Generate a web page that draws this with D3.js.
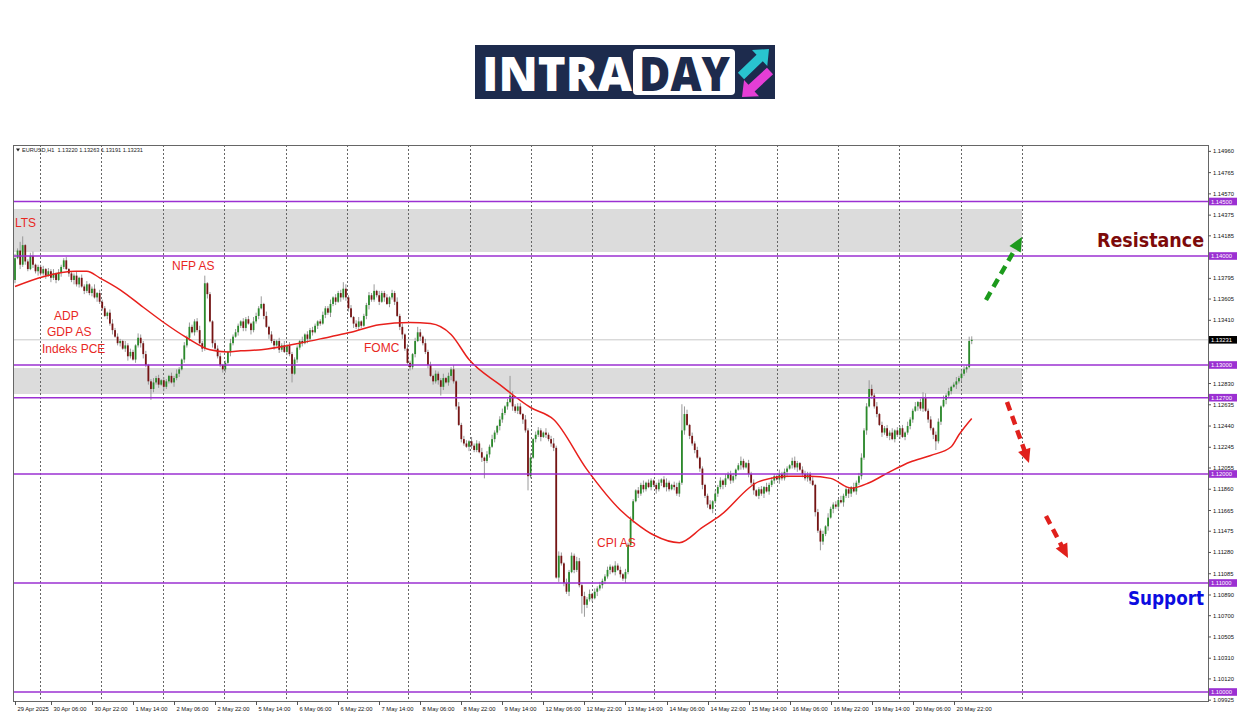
<!DOCTYPE html>
<html><head><meta charset="utf-8">
<script src="https://cdn.jsdelivr.net/npm/d3@7"></script>
<style>
html,body{margin:0;padding:0;background:#fff;}
svg{display:block;}
text{font-family:"Liberation Sans",Arial,sans-serif;}
</style></head><body>
<svg id="c" width="1250" height="716"></svg>
<script>
// ---------------- DATA ----------------
const symbolInfo = "EURUSD,H1  1.13220 1.13263 1.13191 1.13231";
const firstOpen = 378; // pips above 1.10000
const closes = [
 398,405,392,410,395,388,400,392,386,390,384,388,382,386,380,384,378,385,390,396,388,
 384,378,382,374,380,372,368,374,366,370,362,366,358,
 352,345,348,338,332,326,320,322,315,318,
 308,312,305,318,325,320,310,300,
 285,278,
 284,288,282,286,280,285,290,284,288,292,296,
 305,318,325,335,330,340,332,320,315,375,365,340,320,315,
 308,300,296,302,312,320,326,330,
 336,340,334,342,338,332,340,345,352,356,345,
 335,328,322,318,322,314,318,312,318,310,292,
 305,316,322,320,328,324,332,330,336,340,338,346,352,348,356,
 362,358,366,362,370,362,352,344,338,335,340,336,345,
 355,364,360,368,364,358,366,362,356,362,366,358,
 345,335,328,315,302,298,310,322,330,326,320,312,
 300,290,285,292,286,280,288,284,290,296,285,
 262,245,232,228,225,230,226,222,228,220,215,212,218,225,
 232,238,244,250,256,262,266,272,262,258,262,255,250,240,
 198,215,232,236,240,234,238,236,232,228,224,
 105,125,118,100,92,110,125,112,120,98,88,80,85,90,86,92,95,98,
 102,106,112,115,110,116,112,108,104,110,135,158,
 175,185,182,190,186,192,188,194,190,186,192,195,188,192,186,190,188,182,192,
 240,255,245,235,228,222,215,205,190,180,172,168,175,
 182,188,194,190,196,200,194,198,204,208,212,206,210,200,
 192,185,180,186,182,188,184,190,194,198,195,200,196,202,
 205,208,212,206,210,204,200,196,200,194,190,
 165,148,138,145,152,160,168,172,170,176,174,180,186,182,188,184,192,198,
 215,240,262,278,272,262,255,245,238,242,235,238,232,240,236,242,234,238,244,
 250,258,262,266,260,270,258,250,242,236,230,
 248,262,268,272,276,280,282,285,288,292,296,298,322,323.1
];
const wickUp = "4283123412"+"2313241322"+"3122413231"+"2413221342"+"3214232143"+"2312423132"+"1324213242"+"2342312133"+"3121423213"+"2314322141"+
 "3213241322"+"2141323212"+"3224132314"+"2313412232"+"3142231324"+"2314213231"+"4231322413"+"2314233142"+"3241324213"+"4132423314"+
 "2413321423"+"5243142324"+"3142413232"+"2321423132"+"3213241321"+"2313421342"+"3241323121"+"2413231423"+"3124213231"+"2314232142"+
 "3213421332"+"2413231422"+"3142321423"+"4231424132"+"3241323142"+"2413242313"+"3142312423"+"3241";
const wickDn = "3142321324"+"2231423142"+"1324231322"+"3142213241"+"2313421324"+"4231323142"+"2142313231"+"3213241422"+"2331421323"+"3142231314"+
 "2413213241"+"3231423132"+"1324231423"+"3142321342"+"2231413231"+"3421323142"+"2313242313"+"4231321432"+"2143231324"+"3231423142"+
 "4213241323"+"3142324132"+"2413231423"+"3241313242"+"2314232132"+"4231421323"+"2413231342"+"3142324213"+"2314213241"+"3241323142"+
 "2413241323"+"3142132414"+"2314243132"+"3241323142"+"2413241323"+"3142313242"+"2314231423"+"2312";
const spikeHighs = [[3,418],[19,398],[74,382],[96,363],[128,376],[140,374],[157,335],[171,300],[193,290],[260,264],[261,262],[333,286],[354,275],[373,326.3]];
const spikeLows  = [[53,268],[108,284],[166,272],[183,196],[200,185],[221,72],[222,69],[314,130],[359,222],[373,319.1]];
const maBars = [0,11,24,28,33,41,50,58,67,76,83,88,96,111,123,131,142,154,162,170,177,189,201,210,223,236,242,249,259,268,275,290,302,310,318,326,333,341,349,357,365,368,373];
const maVals = [372,381,386,386,380,369,353,339,325,314,312,313,314,320,326,330,337,339,338,328,305,282,261,250,204,167,155,144,137,151,162,193,198,198,196,187,192,202,211,217,225,236,251];
const priceTicks = [1.14960,1.14765,1.14570,1.14375,1.14185,1.13795,1.13605,1.13410,1.12830,1.12635,1.12440,1.12245,1.12055,1.11860,1.11665,1.11475,1.11280,1.11085,1.10890,1.10700,1.10505,1.10310,1.10120,1.09925];
const levels = [1.14500,1.14000,1.13000,1.12700,1.12000,1.11000,1.10000];
const zones = [[1.14431,1.14037],[1.12972,1.12734]];
const currentPrice = 1.13231;
const timeLabels = ["29 Apr 2025","30 Apr 06:00","30 Apr 22:00","1 May 14:00","2 May 06:00","2 May 22:00","5 May 14:00","6 May 06:00","6 May 22:00","7 May 14:00","8 May 06:00","8 May 22:00","9 May 14:00","12 May 06:00","12 May 22:00","13 May 14:00","14 May 06:00","14 May 22:00","15 May 14:00","16 May 06:00","16 May 22:00","19 May 14:00","20 May 06:00","20 May 22:00"];
const timeLabelBars = [0,14,30,46,62,78,94,110,126,142,158,174,190,206,222,238,254,270,286,302,318,334,350,366];
const events = ["LTS","NFP AS","ADP","GDP AS","Indeks PCE","FOMC","CPI AS"];

// ---------------- DRAW ----------------
const svg = d3.select("#c");
const plot = {l:13, t:145, r:1208, b:701};
const pxBar = 2.565;
const x = d3.scaleLinear().domain([0,463]).range([15, 15+463*pxBar]);
const y = d3.scaleLinear().domain([1.10,1.14]).range([692,256]);
const P = v => 1.1 + v/10000;
const lastGridBar = 392.6;

// logo
const navy = "#1d2b4d";
const logo = svg.append("g");
logo.append("rect").attr("x",475).attr("y",45).attr("width",300).attr("height",54).attr("fill",navy);
logo.append("text").attr("x",482).attr("y",91).attr("fill","#fff").attr("font-size",47).attr("font-weight",800)
  .style("font-family","'Open Sans',sans-serif").attr("textLength",150).attr("lengthAdjust","spacingAndGlyphs").text("INTRA");
logo.append("rect").attr("x",633).attr("y",49).attr("width",102).attr("height",46).attr("rx",4).attr("fill","#fff");
logo.append("text").attr("x",639).attr("y",91).attr("fill",navy).attr("font-size",47).attr("font-weight",800)
  .style("font-family","'Open Sans',sans-serif").attr("textLength",91).attr("lengthAdjust","spacingAndGlyphs").text("DAY");
function arrowPoly(x1,y1,x2,y2,sw,hw,hl){
  const dx=x2-x1, dy=y2-y1, L=Math.hypot(dx,dy), ux=dx/L, uy=dy/L, nx=-uy, ny=ux;
  const bx=x2-ux*hl, by=y2-uy*hl;
  const pts=[[x1+nx*sw/2,y1+ny*sw/2],[bx+nx*sw/2,by+ny*sw/2],[bx+nx*hw/2,by+ny*hw/2],[x2,y2],
             [bx-nx*hw/2,by-ny*hw/2],[bx-nx*sw/2,by-ny*sw/2],[x1-nx*sw/2,y1-ny*sw/2]];
  return pts.map(p=>p.join(",")).join(" ");
}
logo.append("polygon").attr("points",arrowPoly(741,76,769,49,9,22,13)).attr("fill","#29c4cf");
logo.append("polygon").attr("points",arrowPoly(770,71,742,97,9,22,13)).attr("fill","#e53ed6");

// zones
svg.append("defs").append("clipPath").attr("id","pc").append("rect")
  .attr("x",plot.l).attr("y",plot.t).attr("width",plot.r-plot.l).attr("height",plot.b-plot.t);
const g = svg.append("g").attr("clip-path","url(#pc)");
zones.forEach(z=>{
  g.append("rect").attr("x",plot.l).attr("y",y(z[0])).attr("width",x(lastGridBar)-plot.l).attr("height",y(z[1])-y(z[0])).attr("fill","#dcdcdc");
});
// vertical dotted grid (only over the bar area)
d3.range(9.75, lastGridBar+1, 23.93).forEach(b=>{
  g.append("line").attr("x1",Math.round(x(b))+0.5).attr("x2",Math.round(x(b))+0.5).attr("y1",plot.t).attr("y2",plot.b)
   .attr("stroke","#666").attr("stroke-width",1).attr("stroke-dasharray","2,2");
});
// current price line
g.append("line").attr("x1",plot.l).attr("x2",plot.r).attr("y1",y(currentPrice)).attr("y2",y(currentPrice)).attr("stroke","#c8c8c8");

// candles
const candles = closes.map((c,i)=>{
  const o = i===0 ? firstOpen : closes[i-1];
  return {i,o,c,h:Math.max(o,c)+(+wickUp[i]||0), l:Math.min(o,c)-(+wickDn[i]||0)};
});
spikeHighs.forEach(([i,v])=>{ if(candles[i]) candles[i].h = Math.max(v, candles[i].o, candles[i].c); });
spikeLows.forEach(([i,v])=>{ if(candles[i]) candles[i].l = Math.min(v, candles[i].o, candles[i].c); });
const cg = g.append("g");
cg.selectAll("line.w").data(candles).join("line").attr("class","w")
  .attr("x1",d=>x(d.i)).attr("x2",d=>x(d.i)).attr("y1",d=>y(P(d.h))).attr("y2",d=>y(P(d.l)))
  .attr("stroke","#8f8f8f").attr("stroke-width",0.9);
cg.selectAll("rect.b").data(candles).join("rect").attr("class","b")
  .attr("x",d=>x(d.i)-0.9).attr("width",1.8)
  .attr("y",d=>y(P(Math.max(d.o,d.c))))
  .attr("height",d=>Math.max(0.8, Math.abs(y(P(d.o))-y(P(d.c)))))
  .attr("fill",d=>d.c>=d.o?"#2b8a2b":"#761414");

// MA
g.append("path").datum(maBars.map((b,i)=>[b,maVals[i]]))
  .attr("d",d3.line().x(d=>x(d[0])).y(d=>y(P(d[1]))).curve(d3.curveMonotoneX))
  .attr("fill","none").attr("stroke","#e8201c").attr("stroke-width",1.5);

// level lines
const purple = "#9b30d2";
levels.forEach(l=>{
  g.append("line").attr("x1",plot.l).attr("x2",plot.r).attr("y1",y(l)).attr("y2",y(l)).attr("stroke",purple).attr("stroke-width",1.6);
});

// frame
svg.append("rect").attr("x",plot.l+0.5).attr("y",plot.t+0.5).attr("width",plot.r-plot.l).attr("height",plot.b-plot.t)
  .attr("fill","none").attr("stroke","#666").attr("stroke-width",1);

// header
svg.append("path").attr("d",`M16,148.5 L20,148.5 L18,151.5 Z`).attr("fill","#222");
svg.append("text").attr("x",22).attr("y",152).attr("font-size",5.6).attr("fill","#222").attr("xml:space","preserve").text(symbolInfo);

// price axis
const ax = svg.append("g");
priceTicks.forEach(t=>{
  ax.append("line").attr("x1",plot.r).attr("x2",plot.r+3).attr("y1",y(t)).attr("y2",y(t)).attr("stroke","#555");
  ax.append("text").attr("x",plot.r+5).attr("y",y(t)+2).attr("font-size",5.8).attr("fill","#111").text(t.toFixed(5));
});
levels.forEach(l=>{
  ax.append("rect").attr("x",plot.r+1).attr("y",y(l)-3.8).attr("width",28).attr("height",7.6).attr("fill",purple);
  ax.append("text").attr("x",plot.r+3).attr("y",y(l)+2).attr("font-size",5.8).attr("fill","#fff").text(l.toFixed(5));
});
ax.append("rect").attr("x",plot.r+1).attr("y",y(currentPrice)-3.8).attr("width",28).attr("height",7.6).attr("fill","#000");
ax.append("text").attr("x",plot.r+3).attr("y",y(currentPrice)+2).attr("font-size",5.8).attr("fill","#fff").text(currentPrice.toFixed(5));

// time axis
timeLabels.forEach((t,i)=>{
  const xx = Math.round(x(timeLabelBars[i]))+0.5;
  ax.append("line").attr("x1",xx).attr("x2",xx).attr("y1",plot.b).attr("y2",plot.b+4).attr("stroke","#555");
  ax.append("text").attr("x",xx+2).attr("y",711).attr("font-size",5.8).attr("fill","#111").text(t);
});

// event annotations
const evPos = [[15,227],[172,270],[54,320],[47,336],[42,353],[364,352],[597,547]];
events.forEach((e,i)=>{
  svg.append("text").attr("x",evPos[i][0]).attr("y",evPos[i][1]).attr("font-size",12).attr("fill","#e8281f").text(e);
});

// Resistance / Support
svg.append("text").attr("x",1097).attr("y",247).attr("font-size",19).attr("font-weight",700).attr("fill","#7d0a0a")
  .style("font-family","'DejaVu Sans',sans-serif")
  .attr("textLength",107).attr("lengthAdjust","spacingAndGlyphs").text("Resistance");
svg.append("text").attr("x",1128).attr("y",605).attr("font-size",19).attr("font-weight",700).attr("fill","#0c0ce0")
  .style("font-family","'DejaVu Sans',sans-serif")
  .attr("textLength",76).attr("lengthAdjust","spacingAndGlyphs").text("Support");

// dashed arrows
function dashArrow(x1,y1,x2,y2,color){
  const dx=x2-x1, dy=y2-y1, L=Math.hypot(dx,dy), ux=dx/L, uy=dy/L, nx=-uy, ny=ux, hl=14, hw=13;
  const bx=x2-ux*hl, by=y2-uy*hl;
  svg.append("line").attr("x1",x1).attr("y1",y1).attr("x2",bx+ux*2).attr("y2",by+uy*2)
    .attr("stroke",color).attr("stroke-width",4.5).attr("stroke-dasharray","9,6");
  svg.append("polygon").attr("points",[[x2,y2],[bx+nx*hw/2,by+ny*hw/2],[bx-nx*hw/2,by-ny*hw/2]].map(p=>p.join(",")).join(" "))
    .attr("fill",color);
}
dashArrow(986,300,1022,237,"#1c9a1c");
dashArrow(1007,402,1029,463,"#e0201c");
dashArrow(1046,516,1068,558,"#e0201c");
</script>
</body></html>
